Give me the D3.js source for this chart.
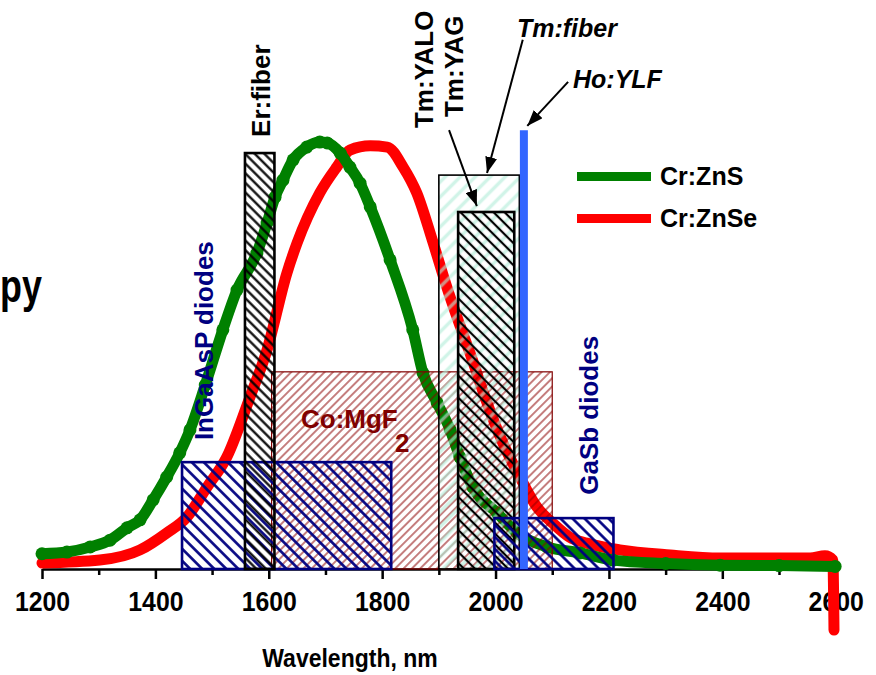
<!DOCTYPE html>
<html><head><meta charset="utf-8">
<script src="https://cdn.jsdelivr.net/npm/d3@7"></script>
<style>
body{margin:0;background:#fff}
text{font-family:"Liberation Sans",Arial,sans-serif;font-weight:bold}
</style>
</head><body>
<svg id="c" width="876" height="675"></svg>
<script>
// ---- data ----
const znsWl  = [1200,1244,1285,1320,1350,1373,1396,1420,1443,1461,1488,1519,1544,1579,1597,1611,1625,1643,1667,1690,1703,1726,1743,1761,1779,1814,1854,1872,1897,1920,1937,1960,2003,2038,2091,2149,2207,2300,2396,2500,2599];
const znsVal = [0.036,0.040,0.052,0.068,0.097,0.116,0.163,0.217,0.274,0.328,0.434,0.564,0.658,0.745,0.816,0.877,0.917,0.965,0.995,1.007,1.005,0.981,0.948,0.910,0.854,0.729,0.564,0.462,0.392,0.328,0.264,0.193,0.132,0.085,0.052,0.038,0.021,0.013,0.009,0.008,0.006];
const znseWl  = [1200,1302,1373,1420,1456,1491,1526,1567,1597,1632,1650,1690,1720,1743,1779,1809,1837,1861,1890,1914,1932,1955,1985,2013,2043,2073,2101,2131,2161,2219,2308,2396,2500,2555,2581,2595,2597];
const znseVal = [0.014,0.021,0.045,0.085,0.123,0.193,0.264,0.406,0.517,0.698,0.769,0.887,0.948,0.988,0.998,0.995,0.948,0.887,0.769,0.665,0.594,0.509,0.392,0.297,0.217,0.146,0.108,0.075,0.061,0.045,0.033,0.026,0.026,0.026,0.031,0.021,-0.144];
const seriesNames = ["Cr:ZnS","Cr:ZnSe"];
const seriesColors = ["#008000","#ff0000"];
const majorTicks = [1200,1400,1600,1800,2000,2200,2400,2600];
const minorTicks = [1300,1500,1700,1900,2100,2300,2500];

// laser / diode bands (wavelength start, end, relative height)
const bandIds    = ["comgf2","ingaasp","tmfiber","erfiber","tmyag","gasb"];
const bandStart  = [1605,1447,1900,1558,1934,1998];
const bandEnd    = [2100,1816,2042,1610,2033,2208];
const bandHeight = [0.465,0.252,0.929,0.981,0.842,0.120];
const hoWl = 2050, hoHeight = 1.035;

// ---- scales ----
const svg = d3.select("#c");
const x = d3.scaleLinear().domain([1200,2600]).range([42,835.7]);
const y = d3.scaleLinear().domain([0,1]).range([569,145]);

// ---- patterns ----
const defs = svg.append("defs");
const patStyles = {
  comgf2: {color:"#8b0000", w:1,   s:5.9, a:45,  o:1},
  ingaasp:{color:"#000080", w:2.6, s:8.5, a:-45, o:1},
  tmfiber:{color:"#b3ecd9", w:3.5, s:10.6,a:45,  o:0.6},
  erfiber:{color:"#000",    w:2.2, s:6.8, a:-45, o:1},
  tmyag:  {color:"#000",    w:2.2, s:7.8, a:-45, o:1},
  gasb:   {color:"#000080", w:2.6, s:8.5, a:-45, o:1}
};
const boxStyles = {
  comgf2: {stroke:"#800000", sw:1.2},
  ingaasp:{stroke:"#000080", sw:2.6},
  tmfiber:{stroke:"#000",    sw:1.6},
  erfiber:{stroke:"#000",    sw:2.6},
  tmyag:  {stroke:"#000",    sw:2.6},
  gasb:   {stroke:"#000080", sw:2.6}
};
bandIds.forEach(id=>{
  const p = patStyles[id];
  const pat = defs.append("pattern").attr("id","p_"+id)
    .attr("patternUnits","userSpaceOnUse").attr("width",p.s).attr("height",p.s)
    .attr("patternTransform",`rotate(${p.a})`);
  pat.append("line").attr("x1",p.s/2).attr("x2",p.s/2).attr("y1",-1).attr("y2",p.s+1)
    .attr("stroke",p.color).attr("stroke-width",p.w).attr("stroke-opacity",p.o);
});
defs.append("marker").attr("id","arr").attr("viewBox","0 0 16 12")
  .attr("refX",16).attr("refY",6).attr("markerWidth",16).attr("markerHeight",12)
  .attr("markerUnits","userSpaceOnUse").attr("orient","auto")
  .append("path").attr("d","M0,0 L16,6 L0,12 Z").attr("fill","#000");

// ---- axis ----
const ax = svg.append("g").attr("transform",`translate(0,${y(0)})`);
ax.call(d3.axisBottom(x).tickValues(majorTicks).tickSize(10).tickSizeOuter(0).tickPadding(13).tickFormat(d3.format("d")));
ax.select(".domain").attr("stroke-width",2.5);
ax.selectAll(".tick line").attr("stroke-width",2.5);
ax.selectAll(".tick text").attr("font-size",27).attr("font-family","Liberation Sans, Arial, sans-serif")
  .attr("font-weight","bold").attr("fill","#000").attr("transform","scale(0.92,1)");
const mx = svg.append("g").attr("transform",`translate(0,${y(0)})`);
mx.call(d3.axisBottom(x).tickValues(minorTicks).tickSize(6).tickSizeOuter(0).tickFormat(""));
mx.select(".domain").remove();
mx.selectAll(".tick line").attr("stroke-width",2.5);

svg.append("text").attr("transform","translate(350,667) scale(0.92,1)").attr("text-anchor","middle")
  .attr("font-size",25).text("Wavelength, nm");

// ---- curves ----
const line = d3.line().x(d=>x(d[0])).y(d=>y(d[1])).curve(d3.curveMonotoneX);
const seriesData = [d3.zip(znsWl,znsVal), d3.zip(znseWl,znseVal)];
[1,0].forEach(i=>{
  svg.append("path").datum(seriesData[i]).attr("d",line).attr("fill","none")
    .attr("stroke",seriesColors[i]).attr("stroke-width",11)
    .attr("stroke-linecap","round").attr("stroke-linejoin","round");
});
// green rendered with overlapping markers
svg.append("g").selectAll("circle").data(seriesData[0]).join("circle")
  .attr("cx",d=>x(d[0])).attr("cy",d=>y(d[1])).attr("r",6.5).attr("fill",seriesColors[0]);

// ---- bands ----
bandIds.forEach((id,i)=>{
  const b = boxStyles[id];
  svg.append("rect").attr("x",x(bandStart[i])).attr("y",y(bandHeight[i]))
    .attr("width",x(bandEnd[i])-x(bandStart[i])).attr("height",y(0)-y(bandHeight[i]))
    .attr("fill",`url(#p_${id})`).attr("stroke",b.stroke).attr("stroke-width",b.sw);
});
// Ho:YLF line
svg.append("line").attr("x1",x(hoWl)).attr("x2",x(hoWl)).attr("y1",y(0)).attr("y2",y(hoHeight))
  .attr("stroke","#3366ff").attr("stroke-width",8);

// ---- arrows ----
const arrows = [[2048,1.248,1985,0.934],[2128,1.149,2056,1.045],[1918,1.035,1967,0.856]];
arrows.forEach(a=>{
  svg.append("line").attr("x1",x(a[0])).attr("y1",y(a[1])).attr("x2",x(a[2])).attr("y2",y(a[3]))
    .attr("stroke","#000").attr("stroke-width",2).attr("marker-end","url(#arr)");
});

// ---- labels ----
function vlabel(wl,v,txt,color){
  svg.append("text").attr("transform",`translate(${x(wl)},${y(v)}) rotate(-90)`)
    .attr("font-size",26).attr("fill",color).text(txt);
}
vlabel(1602,1.019,"Er:fiber","#000");
vlabel(1889.6,1.040,"Tm:YALO","#000");
vlabel(1942.6,1.066,"Tm:YAG","#000");
vlabel(1501.6,0.304,"InGaAsP diodes","#000080");
vlabel(2180.7,0.175,"GaSb diodes","#000080");
svg.append("text").attr("x",x(2037.8)).attr("y",y(1.255)).attr("font-size",25).attr("font-style","italic").text("Tm:fiber");
svg.append("text").attr("x",x(2136.6)).attr("y",y(1.134)).attr("font-size",25).attr("font-style","italic").text("Ho:YLF");
svg.append("text").attr("x",x(1656.8)).attr("y",y(0.333)).attr("font-size",26).attr("fill","#800000").text("Co:MgF");
svg.append("text").attr("x",x(1822.6)).attr("y",y(0.276)).attr("font-size",26).attr("fill","#800000").text("2");
svg.append("text").attr("transform","translate(0,302) scale(0.78,1)").attr("font-size",46).text("py");

// ---- legend ----
seriesNames.forEach((n,i)=>{
  const ly = 176.5 + i*42;
  svg.append("line").attr("x1",577).attr("x2",651).attr("y1",ly).attr("y2",ly)
    .attr("stroke",seriesColors[i]).attr("stroke-width",9);
  svg.append("text").attr("x",660).attr("y",ly+8.5).attr("font-size",25).text(n);
});
</script>
</body></html>
